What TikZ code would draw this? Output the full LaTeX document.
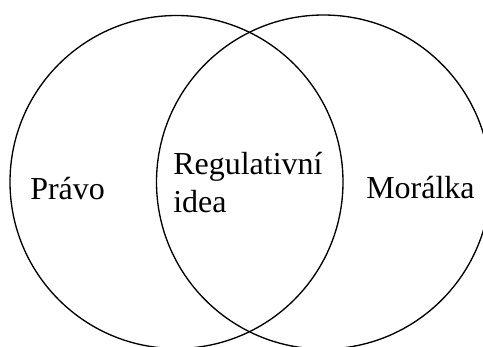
\documentclass[tikz,border=0pt]{standalone}
\usepackage{fontspec}
\setmainfont{Liberation Serif}
\begin{document}
\begin{tikzpicture}[x=0.75pt,y=-0.75pt,
  ring/.style={draw=black,line width=1pt},
  lbl/.style={anchor=base west,inner sep=0pt,align=left,font=\fontsize{24}{28.5}\selectfont}]
\useasboundingbox (0,0) rectangle (483,347);
\clip (0,0) rectangle (483,347);
\draw[ring] (176.5,182) circle[radius=166.5];
\draw[ring] (323.5,182) circle[radius=167];
\node[lbl] (pravo) at (30,199.5) {Právo};
\node[lbl] (idea) at (173,212) {Regulativní\\idea};
\node[lbl] (moralka) at (366,198) {Morálka};
\end{tikzpicture}
\end{document}
